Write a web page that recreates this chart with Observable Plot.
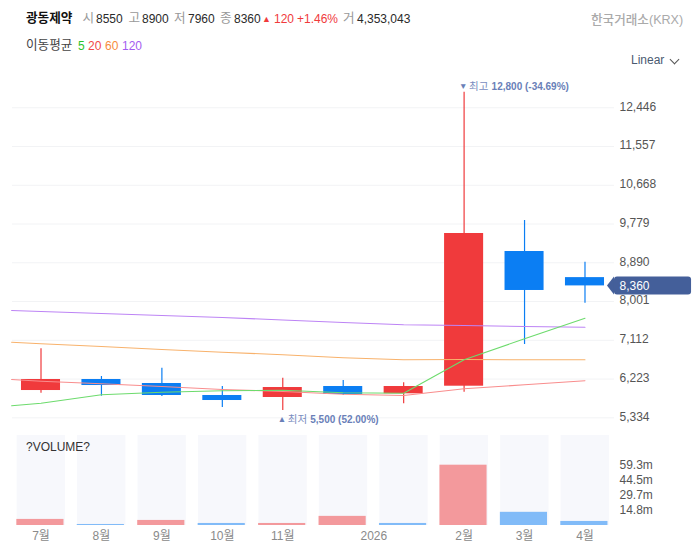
<!DOCTYPE html>
<html lang="ko"><head><meta charset="utf-8">
<script src="https://cdn.jsdelivr.net/npm/d3@7"></script>
<script src="https://cdn.jsdelivr.net/npm/@observablehq/plot@0.6"></script>
<style>
html,body{margin:0;padding:0;background:#fff;width:699px;height:555px;overflow:hidden;font-family:"Liberation Sans","Noto Sans CJK KR",sans-serif;}
#stage{position:relative;width:699px;height:555px;}
#stage span.t{position:absolute;font-size:12px;line-height:16px;white-space:nowrap;color:#2a2a2a;}
#stage span.k{font-size:12.6px;}
#price,#volume{position:absolute;left:0;}
#price{top:70px;} #volume{top:430px;}
svg{display:block;}
.g{color:#999!important}
.chev{position:absolute;left:671px;top:56px;width:6px;height:6px;border-right:1px solid #555;border-bottom:1px solid #555;transform:rotate(45deg);}
</style></head><body>
<div id="stage">
<span class="t k" style="left:26px;top:10px;font-weight:700;color:#111">광동제약</span>
<span class="t k g" style="left:82.5px;top:10px">시</span><span class="t" style="left:96px;top:11px">8550</span>
<span class="t k g" style="left:128.5px;top:10px">고</span><span class="t" style="left:142px;top:11px">8900</span>
<span class="t k g" style="left:174px;top:10px">저</span><span class="t" style="left:188px;top:11px">7960</span>
<span class="t k g" style="left:220px;top:10px">종</span><span class="t" style="left:234px;top:11px">8360</span>
<span class="t" style="left:262px;top:10.5px;color:#f03a3c;font-size:9px">▲</span>
<span class="t" style="left:274px;top:11px;color:#f03a3c">120</span>
<span class="t" style="left:297px;top:11px;color:#f03a3c">+1.46%</span>
<span class="t k g" style="left:343px;top:10px">거</span><span class="t" style="left:357px;top:11px">4,353,043</span>
<span class="t k" style="left:26px;top:37px;color:#444">이동평균</span>
<span class="t" style="left:78px;top:38px;color:#2bc42b">5</span>
<span class="t" style="left:88px;top:38px;color:#f0484a">20</span>
<span class="t" style="left:105px;top:38px;color:#f78c3c">60</span>
<span class="t" style="left:122px;top:38px;color:#a45cf0">120</span>
<span class="t k" style="left:591px;top:12px;color:#aaa;font-weight:500">한국거래소(KRX)</span>
<span class="t" style="left:631px;top:52px;color:#4a5a70">Linear</span>
<div class="chev"></div>
<div id="price"></div>
<div id="volume"></div>
</div>
<script>
const months = ["7월","8월","9월","10월","11월","2026","2월","3월","4월"];
const monthTicks = [0,1,2,3,4,5.506,7,8,9];
const opens  = [5960,6213,6121,5846,5800,6052,5885,6059,9149,8550];
const closes = [6213,6075,5846,5731,6029,5869,6052,9562,8255,8360];
const highs  = [6917,6282,6472,6052,6243,6190,6137,12800,9860,8900];
const lows   = [5899,5830,5823,5571,5500,5846,5655,5922,7016,7960];
const volumes = [6,1,5,2,2,9,2,59.5,13,4];
const volumeUp = [true,false,true,false,true,true,false,true,false,false];
const maIndex = [-0.486,0,1,2,3,4,5,6,7,8,9];
const ma5   = [5610,5669,5862,5922,5954,5967,5910,5899,6665,7147,7619];
const ma20  = [6213,6174,6114,6052,5983,5938,5876,5846,6000,6091,6183];
const ma60  = [7069,7032,6970,6901,6839,6780,6711,6665,6672,6665,6665];
const ma120 = [7796,7773,7727,7681,7635,7578,7520,7468,7452,7429,7413];
const priceTicks = [5334,6223,7112,8001,8890,9779,10668,11557,12446];
const volumeTicks = [14.8,29.7,44.5,59.3];
const lastPrice = 8360;

const RED="#f03a3c", BLUE="#0b7ef3", TAG="#445f9a";
const idx = opens.map((_,i)=>i);
const color = i => closes[i]>opens[i] ? RED : BLUE;
const xDomain = [-0.6701,9.571];
const font = '"Liberation Sans","Noto Sans CJK KR",sans-serif';
const maLine = (vals,stroke)=>Plot.line(vals.map((v,k)=>({x:maIndex[k],y:v})),{x:"x",y:"y",stroke,strokeWidth:1.1});
const note = (i,val,sym,word,num,dy,dxSym,dxWord,dxNum)=>[
  Plot.text([i],{x:d=>d,y:d=>val,text:()=>sym,dx:dxSym,dy,textAnchor:"start",fontSize:8.5,fill:"#6a7fb8"}),
  Plot.text([i],{x:d=>d,y:d=>val,text:()=>word,dx:dxWord,dy,textAnchor:"start",fontSize:10.5,fill:"#7a8dc0"}),
  Plot.text([i],{x:d=>d,y:d=>val,text:()=>num,dx:dxNum,dy,textAnchor:"start",fontSize:10,fontWeight:700,fill:"#6a7fb8"})
];

const price = Plot.plot({
  width:699,height:360,marginTop:0,marginBottom:0,marginLeft:0,marginRight:80,
  style:{fontFamily:font,background:"transparent",overflow:"visible"},
  x:{type:"linear",domain:xDomain,axis:null},
  y:{domain:[5043,13301]},
  marks:[
    Plot.ruleY(priceTicks,{x1:-0.472,x2:9.488,stroke:"#f2f3f5",strokeWidth:1}),
    Plot.axisY(priceTicks,{anchor:"right",tickSize:0,tickPadding:0,dy:-1,tickFormat:d3.format(","),fontSize:12,fill:"#555",label:null}),
    Plot.ruleX(idx,{x:i=>i,y1:i=>lows[i],y2:i=>highs[i],stroke:i=>color(i),strokeWidth:1.2}),
    Plot.rect(idx,{x1:i=>i-0.323,x2:i=>i+0.323,y1:i=>opens[i],y2:i=>closes[i],fill:i=>color(i)}),
    maLine(ma120,"#bd84f5"),
    maLine(ma60,"#f8b26c"),
    maLine(ma20,"#f98d8d"),
    maLine(ma5,"#6ddb6d"),
    ...note(7,highs[7],"▼","최고","12,800 (-34.69%)",-6,-5,5,27.5),
    ...note(4,lows[4],"▲","최저","5,500 (52.00%)",9,-5,5,27.5),
    Plot.area([9.372,9.488],{x1:d=>d,y1:d=>d<9.4?lastPrice:lastPrice-206,y2:d=>d<9.4?lastPrice:lastPrice+206,fill:TAG}),
    Plot.rect([lastPrice],{x1:9.488,x2:10.763,y1:d=>d-206,y2:d=>d+206,fill:TAG,rx:3}),
    Plot.text([lastPrice],{x:xDomain[1],y:d=>d,text:d3.format(","),textAnchor:"start",fontSize:12,fill:"#fff"})
  ]
});
document.getElementById("price").append(price);

const volume = Plot.plot({
  width:699,height:125,marginTop:5,marginBottom:30,marginLeft:0,marginRight:80,
  style:{fontFamily:font,background:"transparent",overflow:"visible"},
  x:{type:"linear",domain:xDomain,axis:null},
  y:{domain:[0,88.8]},
  marks:[
    Plot.rect(idx,{x1:i=>i-0.395,x2:i=>i+0.405,y1:0,y2:88.8,fill:"#f7f8fc"}),
    Plot.rect(idx,{x1:i=>i-0.4,x2:i=>i+0.38,y1:0,y2:i=>volumes[i],fill:i=>volumeUp[i]?RED:BLUE,fillOpacity:0.5}),
    Plot.axisY(volumeTicks,{anchor:"right",tickSize:0,tickPadding:0,dy:-0.5,tickFormat:d=>d.toFixed(1)+"m",fontSize:12,fill:"#555",label:null}),
    Plot.axisX(monthTicks,{anchor:"bottom",tickSize:0,tickPadding:6,tickFormat:d=>months[monthTicks.indexOf(d)],fontSize:12,fill:"#8a8a8a",label:null}),
    Plot.text(["?VOLUME?"],{frameAnchor:"top-left",dx:25.5,dy:7,textAnchor:"start",fontSize:12,fill:"#333"})
  ]
});
document.getElementById("volume").append(volume);
</script>
</body></html>
